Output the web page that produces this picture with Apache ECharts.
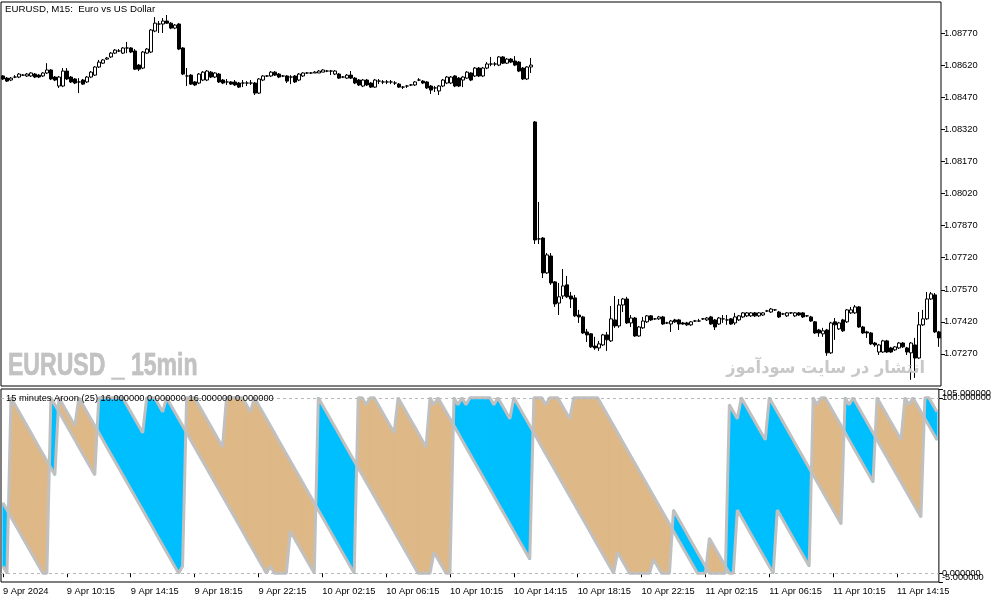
<!DOCTYPE html>
<html>
<head>
<meta charset="utf-8">
<script src="https://cdn.jsdelivr.net/npm/echarts@6/dist/echarts.min.js"></script>
<style>
html,body{margin:0;padding:0;background:#fff;}
#chart{width:994px;height:603px;}
</style>
</head>
<body>
<div id="chart"></div>
<script>
// ---- EURUSD M15 candles: [open, close, low, high] ----
const ohlc = [
[1.08570,1.08556,1.08551,1.08574],[1.08560,1.08546,1.08542,1.08565],[1.08551,1.08560,1.08546,1.08565],[1.08565,1.08565,1.08560,1.08574],[1.08565,1.08579,1.08560,1.08584],
[1.08574,1.08574,1.08570,1.08579],[1.08570,1.08579,1.08565,1.08584],[1.08570,1.08584,1.08565,1.08588],[1.08579,1.08565,1.08560,1.08584],[1.08574,1.08565,1.08560,1.08579],
[1.08570,1.08584,1.08565,1.08588],[1.08584,1.08598,1.08579,1.08630],[1.08598,1.08556,1.08551,1.08602],[1.08565,1.08551,1.08546,1.08570],[1.08523,1.08565,1.08514,1.08570],
[1.08523,1.08593,1.08518,1.08607],[1.08593,1.08556,1.08551,1.08607],[1.08565,1.08542,1.08537,1.08570],[1.08556,1.08537,1.08532,1.08560],[1.08542,1.08542,1.08490,1.08560],
[1.08551,1.08532,1.08528,1.08556],[1.08542,1.08565,1.08537,1.08570],[1.08565,1.08588,1.08560,1.08593],[1.08574,1.08612,1.08570,1.08616],[1.08612,1.08635,1.08607,1.08645],
[1.08630,1.08645,1.08626,1.08649],[1.08649,1.08654,1.08645,1.08659],[1.08659,1.08677,1.08654,1.08682],[1.08677,1.08691,1.08673,1.08696],[1.08687,1.08687,1.08682,1.08696],
[1.08677,1.08701,1.08673,1.08705],[1.08701,1.08701,1.08677,1.08729],[1.08701,1.08682,1.08677,1.08705],[1.08687,1.08602,1.08598,1.08696],[1.08621,1.08602,1.08593,1.08626],
[1.08607,1.08682,1.08602,1.08687],[1.08677,1.08696,1.08673,1.08701],[1.08682,1.08785,1.08677,1.08789],[1.08780,1.08817,1.08775,1.08845],[1.08813,1.08813,1.08771,1.08827],
[1.08813,1.08827,1.08771,1.08841],[1.08827,1.08817,1.08813,1.08855],[1.08817,1.08794,1.08789,1.08822],[1.08794,1.08808,1.08789,1.08813],[1.08813,1.08696,1.08691,1.08817],
[1.08701,1.08579,1.08574,1.08705],[1.08570,1.08570,1.08523,1.08607],[1.08574,1.08532,1.08528,1.08579],[1.08542,1.08528,1.08523,1.08546],[1.08537,1.08579,1.08532,1.08584],
[1.08551,1.08588,1.08546,1.08593],[1.08551,1.08593,1.08546,1.08598],[1.08588,1.08565,1.08560,1.08593],[1.08565,1.08584,1.08560,1.08588],[1.08579,1.08542,1.08537,1.08584],
[1.08551,1.08537,1.08532,1.08556],[1.08542,1.08542,1.08528,1.08556],[1.08542,1.08532,1.08528,1.08546],[1.08542,1.08528,1.08523,1.08551],[1.08537,1.08518,1.08514,1.08542],
[1.08537,1.08537,1.08518,1.08551],[1.08537,1.08537,1.08523,1.08546],[1.08537,1.08537,1.08528,1.08551],[1.08537,1.08490,1.08481,1.08542],[1.08490,1.08556,1.08486,1.08560],
[1.08551,1.08570,1.08546,1.08574],[1.08570,1.08570,1.08565,1.08574],[1.08570,1.08588,1.08565,1.08593],[1.08588,1.08574,1.08570,1.08593],[1.08579,1.08565,1.08560,1.08584],
[1.08570,1.08570,1.08565,1.08574],[1.08570,1.08546,1.08537,1.08574],[1.08565,1.08565,1.08532,1.08574],[1.08570,1.08542,1.08537,1.08574],[1.08551,1.08579,1.08546,1.08584],
[1.08570,1.08584,1.08565,1.08588],[1.08584,1.08584,1.08579,1.08588],[1.08584,1.08584,1.08579,1.08588],[1.08584,1.08588,1.08584,1.08593],[1.08584,1.08593,1.08584,1.08598],
[1.08588,1.08598,1.08588,1.08602],[1.08593,1.08593,1.08588,1.08598],[1.08593,1.08593,1.08574,1.08598],[1.08579,1.08593,1.08574,1.08598],[1.08579,1.08560,1.08556,1.08584],
[1.08565,1.08565,1.08560,1.08570],[1.08560,1.08574,1.08556,1.08579],[1.08574,1.08560,1.08556,1.08593],[1.08560,1.08537,1.08532,1.08565],[1.08551,1.08528,1.08523,1.08556],
[1.08523,1.08551,1.08518,1.08556],[1.08551,1.08528,1.08523,1.08556],[1.08537,1.08518,1.08514,1.08542],[1.08518,1.08551,1.08514,1.08556],[1.08546,1.08546,1.08532,1.08556],
[1.08542,1.08542,1.08532,1.08551],[1.08542,1.08542,1.08532,1.08551],[1.08542,1.08542,1.08532,1.08551],[1.08537,1.08537,1.08528,1.08546],[1.08532,1.08518,1.08514,1.08537],
[1.08518,1.08518,1.08509,1.08523],[1.08523,1.08523,1.08514,1.08528],[1.08528,1.08528,1.08523,1.08532],[1.08528,1.08542,1.08523,1.08546],[1.08551,1.08551,1.08546,1.08560],
[1.08546,1.08537,1.08532,1.08551],[1.08542,1.08514,1.08509,1.08546],[1.08523,1.08504,1.08486,1.08528],[1.08514,1.08514,1.08495,1.08523],[1.08500,1.08523,1.08481,1.08528],
[1.08523,1.08551,1.08518,1.08556],[1.08537,1.08565,1.08532,1.08570],[1.08537,1.08565,1.08532,1.08570],[1.08570,1.08523,1.08518,1.08574],[1.08560,1.08523,1.08518,1.08565],
[1.08551,1.08565,1.08518,1.08570],[1.08560,1.08588,1.08556,1.08593],[1.08584,1.08551,1.08546,1.08588],[1.08570,1.08607,1.08565,1.08612],[1.08607,1.08570,1.08565,1.08612],
[1.08570,1.08607,1.08565,1.08612],[1.08607,1.08626,1.08602,1.08635],[1.08626,1.08626,1.08616,1.08659],[1.08626,1.08626,1.08616,1.08635],[1.08621,1.08659,1.08616,1.08663],
[1.08659,1.08630,1.08626,1.08663],[1.08630,1.08649,1.08626,1.08654],[1.08649,1.08635,1.08630,1.08654],[1.08640,1.08621,1.08616,1.08663],[1.08635,1.08593,1.08588,1.08640],
[1.08607,1.08556,1.08551,1.08612],[1.08556,1.08612,1.08551,1.08616],[1.08612,1.08621,1.08584,1.08654],[1.08355,1.07803,1.07784,1.08359],[1.07808,1.07808,1.07784,1.07981],
[1.07812,1.07649,1.07625,1.07817],[1.07649,1.07733,1.07644,1.07742],[1.07728,1.07602,1.07593,1.07742],[1.07607,1.07504,1.07490,1.07611],[1.07508,1.07537,1.07452,1.07602],
[1.07541,1.07588,1.07527,1.07667],[1.07593,1.07537,1.07532,1.07635],[1.07541,1.07527,1.07485,1.07560],[1.07532,1.07448,1.07443,1.07546],[1.07452,1.07443,1.07415,1.07476],
[1.07443,1.07368,1.07364,1.07448],[1.07373,1.07359,1.07326,1.07387],[1.07364,1.07303,1.07298,1.07368],[1.07307,1.07298,1.07289,1.07350],[1.07298,1.07317,1.07284,1.07331],
[1.07312,1.07359,1.07307,1.07364],[1.07359,1.07336,1.07284,1.07373],[1.07331,1.07434,1.07326,1.07494],[1.07429,1.07401,1.07392,1.07541],[1.07401,1.07499,1.07392,1.07527],
[1.07499,1.07527,1.07466,1.07532],[1.07527,1.07415,1.07410,1.07537],[1.07415,1.07438,1.07396,1.07452],[1.07438,1.07354,1.07350,1.07443],[1.07354,1.07396,1.07350,1.07401],
[1.07392,1.07424,1.07387,1.07443],[1.07420,1.07448,1.07415,1.07452],[1.07448,1.07429,1.07424,1.07452],[1.07434,1.07434,1.07429,1.07438],[1.07434,1.07443,1.07429,1.07448],
[1.07443,1.07410,1.07406,1.07448],[1.07415,1.07415,1.07410,1.07420],[1.07410,1.07424,1.07373,1.07429],[1.07429,1.07420,1.07415,1.07434],[1.07429,1.07410,1.07382,1.07434],
[1.07415,1.07410,1.07406,1.07420],[1.07415,1.07406,1.07401,1.07420],[1.07406,1.07420,1.07401,1.07424],[1.07424,1.07424,1.07420,1.07429],[1.07424,1.07424,1.07420,1.07434],
[1.07434,1.07434,1.07429,1.07438],[1.07429,1.07438,1.07424,1.07443],[1.07443,1.07410,1.07406,1.07448],[1.07429,1.07396,1.07382,1.07434],[1.07410,1.07438,1.07406,1.07443],
[1.07434,1.07434,1.07415,1.07452],[1.07429,1.07429,1.07406,1.07452],[1.07434,1.07410,1.07406,1.07438],[1.07415,1.07443,1.07406,1.07462],[1.07429,1.07448,1.07424,1.07452],
[1.07443,1.07462,1.07438,1.07466],[1.07448,1.07462,1.07443,1.07466],[1.07448,1.07462,1.07443,1.07466],[1.07462,1.07448,1.07443,1.07466],[1.07448,1.07462,1.07443,1.07466],
[1.07452,1.07462,1.07448,1.07466],[1.07471,1.07471,1.07466,1.07476],[1.07466,1.07480,1.07462,1.07485],[1.07476,1.07476,1.07471,1.07480],[1.07466,1.07443,1.07438,1.07471],
[1.07457,1.07457,1.07452,1.07462],[1.07448,1.07462,1.07443,1.07466],[1.07462,1.07462,1.07457,1.07466],[1.07448,1.07462,1.07443,1.07466],[1.07462,1.07452,1.07448,1.07466],
[1.07462,1.07443,1.07438,1.07466],[1.07448,1.07448,1.07443,1.07452],[1.07443,1.07424,1.07420,1.07448],[1.07420,1.07368,1.07364,1.07424],[1.07382,1.07368,1.07350,1.07387],
[1.07364,1.07378,1.07350,1.07392],[1.07382,1.07275,1.07261,1.07387],[1.07275,1.07415,1.07270,1.07420],[1.07420,1.07406,1.07336,1.07438],[1.07387,1.07415,1.07382,1.07420],
[1.07429,1.07378,1.07373,1.07434],[1.07420,1.07476,1.07415,1.07480],[1.07462,1.07476,1.07457,1.07490],[1.07462,1.07490,1.07457,1.07499],[1.07490,1.07396,1.07392,1.07494],
[1.07396,1.07368,1.07364,1.07401],[1.07373,1.07368,1.07345,1.07378],[1.07368,1.07317,1.07312,1.07373],[1.07321,1.07312,1.07303,1.07326],[1.07279,1.07312,1.07265,1.07317],
[1.07279,1.07331,1.07275,1.07336],[1.07331,1.07279,1.07275,1.07336],[1.07298,1.07279,1.07275,1.07303],[1.07289,1.07303,1.07284,1.07307],[1.07298,1.07321,1.07293,1.07326],
[1.07321,1.07303,1.07298,1.07326],[1.07298,1.07279,1.07265,1.07303],[1.07275,1.07321,1.07149,1.07326],[1.07312,1.07251,1.07158,1.07345],[1.07251,1.07406,1.07247,1.07466],
[1.07406,1.07434,1.07401,1.07476],[1.07434,1.07527,1.07429,1.07560],[1.07527,1.07551,1.07523,1.07560],[1.07546,1.07373,1.07368,1.07555],[1.07373,1.07345,1.07303,1.07378]
];

// ---- Aroon (25) values ----
const aroonUp = [
40,36,32,28,24,20,16,12,8,4,
0,0,100,96,92,88,84,80,76,72,
68,64,60,56,100,100,100,100,100,100,
100,96,92,88,84,80,100,100,100,96,
92,100,96,92,88,84,80,76,72,68,
64,60,56,52,48,44,40,36,32,28,
24,20,16,12,8,4,0,4,0,0,
0,0,24,20,16,12,8,4,0,100,
96,92,88,84,80,76,72,68,64,60,
56,52,48,44,40,36,32,28,24,20,
16,12,8,4,0,0,0,0,12,8,
4,0,0,100,96,100,96,100,100,100,
100,100,100,96,100,96,92,88,100,96,
92,88,84,80,76,72,68,64,60,56,
52,48,44,40,36,32,28,24,20,16,
12,8,4,0,12,8,4,0,0,0,
0,0,0,8,4,0,0,0,36,32,
28,24,20,16,12,8,4,0,0,0,
0,0,96,92,88,100,96,92,88,84,
80,76,100,96,92,88,84,80,76,72,
68,64,60,56,52,48,44,40,36,32,
28,100,96,100,96,92,88,84,80,76,
72,68,64,60,56,52,48,44,40,36,
32,100,100,96,92
];
const aroonDown = [
4,0,100,96,92,88,84,80,76,72,
68,64,60,56,100,96,92,88,84,100,
96,92,88,84,80,76,72,68,64,60,
56,52,48,44,40,36,32,28,24,20,
16,12,8,4,0,4,100,100,100,96,
92,88,84,80,76,72,100,100,100,100,
100,96,92,100,96,92,88,84,80,76,
72,68,64,60,56,52,48,44,40,36,
32,28,24,20,16,12,8,4,0,100,
100,96,100,100,96,92,88,84,80,100,
96,92,88,84,80,76,72,100,96,100,
96,92,88,84,80,76,72,68,64,60,
56,52,48,44,40,36,32,28,24,20,
16,12,8,100,100,100,96,100,100,100,
96,92,88,100,100,100,100,100,100,100,
96,92,88,84,80,76,72,68,64,60,
56,52,48,44,40,36,32,28,24,20,
16,12,8,4,0,0,0,20,16,12,
8,4,0,0,36,32,28,24,20,16,
12,8,4,0,36,32,28,24,20,16,
12,8,4,100,96,100,100,96,92,88,
84,80,76,72,68,64,60,56,52,100,
96,92,88,84,80,76,100,96,100,96,
92,88,84,80,76
];

const tickLabels = ['9 Apr 2024','9 Apr 10:15','9 Apr 14:15','9 Apr 18:15','9 Apr 22:15',
  '10 Apr 02:15','10 Apr 06:15','10 Apr 10:15','10 Apr 14:15','10 Apr 18:15','10 Apr 22:15',
  '11 Apr 02:15','11 Apr 06:15','11 Apr 10:15','11 Apr 14:15'];
const aroonLevels = [0, 100];
const aroonTop = [105];
const aroonBottom = [-5];
const priceMin = 1.0712, priceMax = 1.08916, priceStep = 0.0015;

// bar time categories (M15 bars from 9 Apr 2024 06:15)
const MONTHS = ['Jan','Feb','Mar','Apr','May','Jun','Jul','Aug','Sep','Oct','Nov','Dec'];
const startMs = Date.UTC(2024, 3, 9, 6, 15);
const pad = n => (n < 10 ? '0' : '') + n;
const barTimes = ohlc.map((_, i) => {
  const d = new Date(startMs + i * 15 * 60000);
  return d.getUTCDate() + ' ' + MONTHS[d.getUTCMonth()] + ' ' + pad(d.getUTCHours()) + ':' + pad(d.getUTCMinutes());
});

const UP_FILL = '#00BFFF', DOWN_FILL = '#DEB887';
const fillData = aroonUp.slice(0, -1).map((u, i) => [i, u, aroonDown[i], aroonUp[i + 1], aroonDown[i + 1]]);

function renderFill(params, api) {
  const i = api.value(0);
  const u0 = api.value(1), d0 = api.value(2), u1 = api.value(3), d1 = api.value(4);
  const pu0 = api.coord([i, u0]), pd0 = api.coord([i, d0]);
  const pu1 = api.coord([i + 1, u1]), pd1 = api.coord([i + 1, d1]);
  const a0 = u0 - d0, a1 = u1 - d1;
  const col = a => (a > 0 ? UP_FILL : DOWN_FILL);
  const st = c => ({fill: c, stroke: c, lineWidth: 1.3, lineJoin: 'round'});
  const children = [];
  if (a0 * a1 >= 0) {
    const a = a0 !== 0 ? a0 : a1;
    if (a === 0) return null;
    children.push({type: 'polygon', shape: {points: [pu0, pu1, pd1, pd0]}, style: st(col(a))});
  } else {
    const t = a0 / (a0 - a1);
    const pc = [pu0[0] + t * (pu1[0] - pu0[0]), pu0[1] + t * (pu1[1] - pu0[1])];
    children.push({type: 'polygon', shape: {points: [pu0, pc, pd0]}, style: st(col(a0))});
    children.push({type: 'polygon', shape: {points: [pc, pu1, pd1]}, style: st(col(a1))});
  }
  return {type: 'group', children: children};
}

const FONT = 'Liberation Sans';
function aroonAxis(values, vAlign) {
  return {gridIndex: 1, type: 'value', position: 'right', min: -5, max: 105,
    axisLine: {show: false}, splitLine: {show: false},
    axisTick: {show: true, length: 4, customValues: values, lineStyle: {color: '#000'}},
    axisLabel: {customValues: values, showMinLabel: true, showMaxLabel: true, margin: 3, color: '#000',
      fontFamily: FONT, fontSize: 9.3, verticalAlign: vAlign, formatter: v => Number(v).toFixed(6)}};
}
const chart = echarts.init(document.getElementById('chart'), null, {renderer: 'canvas'});
chart.setOption({
  animation: false,
  backgroundColor: '#fff',
  grid: [
    {left: 1, top: 2, width: 940, height: 384, show: true, borderColor: '#000', borderWidth: 1, backgroundColor: '#fff'},
    {left: 1, top: 389, width: 940, height: 193, show: true, borderColor: '#000', borderWidth: 1, backgroundColor: '#fff'}
  ],
  xAxis: [
    {gridIndex: 0, type: 'category', data: barTimes, boundaryGap: true, show: false},
    {gridIndex: 1, type: 'category', data: barTimes, boundaryGap: true,
      axisLine: {show: false},
      axisTick: {show: true, interval: 15, alignWithLabel: true, length: 4, lineStyle: {color: '#000'}},
      axisLabel: {interval: 15, align: 'left', margin: 5, color: '#000', fontFamily: FONT, fontSize: 9.3,
        formatter: (v, idx) => (idx % 16 === 0 ? tickLabels[idx / 16] : '')},
      splitLine: {show: false}}
  ],
  yAxis: [
    {gridIndex: 0, type: 'value', position: 'right', min: priceMin, max: priceMax, interval: priceStep,
      axisLine: {show: false}, splitLine: {show: false},
      axisTick: {show: true, length: 4, lineStyle: {color: '#000'}},
      axisLabel: {showMinLabel: false, showMaxLabel: false, margin: 3, color: '#000', fontFamily: FONT, fontSize: 9.3,
        formatter: v => v.toFixed(5)}},
    aroonAxis(aroonLevels, 'middle'),
    aroonAxis(aroonTop, 'top'),
    aroonAxis(aroonBottom, 'bottom')
  ],
  series: [
    {type: 'candlestick', xAxisIndex: 0, yAxisIndex: 0, data: ohlc, barWidth: 3,
      itemStyle: {color: '#fff', color0: '#000', borderColor: '#000', borderColor0: '#000', borderWidth: 1}},
    {type: 'custom', xAxisIndex: 1, yAxisIndex: 1, data: fillData, renderItem: renderFill,
      encode: {x: 0, y: [1, 2, 3, 4]}, z: 1, silent: true},
    {type: 'line', name: 'Aroon Up', xAxisIndex: 1, yAxisIndex: 1, data: aroonUp, symbol: 'none', z: 3,
      lineStyle: {color: '#C0C0C0', width: 3}, itemStyle: {color: '#C0C0C0'},
      markLine: {silent: true, symbol: ['none', 'none'], label: {show: false},
        lineStyle: {type: [3, 3], color: '#B8B8B8', width: 1},
        data: [{yAxis: 100}, {yAxis: 0}]}},
    {type: 'line', name: 'Aroon Down', xAxisIndex: 1, yAxisIndex: 1, data: aroonDown, symbol: 'none', z: 3,
      lineStyle: {color: '#C0C0C0', width: 3}, itemStyle: {color: '#C0C0C0'}}
  ],
  graphic: [
    {type: 'text', left: 5, top: 4, z: 10,
      style: {text: 'EURUSD, M15:  Euro vs US Dollar', font: '9.7px "Liberation Sans"', fill: '#000'}},
    {type: 'text', left: 6, top: 394, z: 10,
      style: {text: '15 minutes Aroon (25) 16.000000 0.000000 16.000000 0.000000', font: '9.3px "Liberation Sans"', fill: '#000'}},
    {type: 'text', x: 8, y: 366, scaleX: 0.72, z: 10,
      style: {x: 0, y: 0, text: 'EURUSD _ 15min', font: 'bold 32px "Liberation Sans"', fill: '#C2C2C2',
        stroke: '#B0B0B0', lineWidth: 0.6, align: 'left', verticalAlign: 'middle'}},
    {type: 'text', x: 925, y: 369, scaleX: 0.95, z: 10,
      style: {x: 0, y: 0, text: 'انتشار در سایت سودآموز', font: 'bold 17px "DejaVu Sans"', fill: '#C8C8C8',
        align: 'right', verticalAlign: 'middle'}}
  ]
});
</script>
</body>
</html>
